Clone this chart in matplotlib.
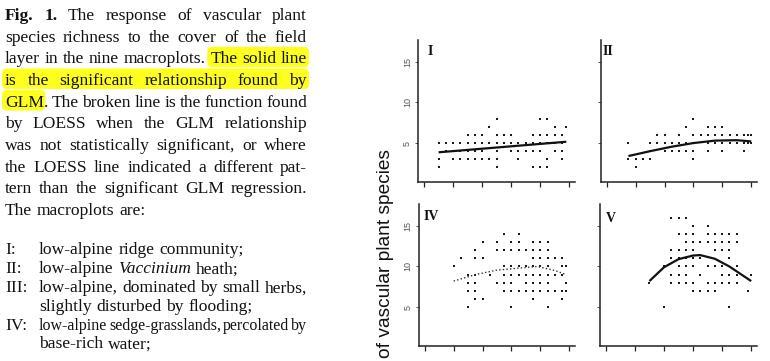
import matplotlib
matplotlib.use('Agg')
import matplotlib.pyplot as plt
from matplotlib.patches import FancyBboxPatch
from matplotlib.transforms import IdentityTransform

W, H = 770, 361
fig = plt.figure(figsize=(W / 100, H / 100), dpi=100)
fig.patch.set_facecolor('white')

# ---------------- data ----------------
cover_ticks = [0, 20, 40, 60, 80, 100]
richness_ticks = [5, 10, 15]
richness_tick_labels = ['5', '10', '15']

# points: richness -> list of cover values
panel1_points = {
    8: [50, 80, 85],
    7: [45, 90, 98],
    6: [30, 35, 40, 50, 55, 60, 75, 80, 85, 90, 95],
    5: [10, 15, 20, 25, 30, 35, 40, 45, 50, 55, 60, 65, 70, 75, 80, 85, 90, 95],
    4: [15, 20, 25, 30, 35, 40, 50, 60, 65, 70, 75, 80, 90, 95],
    3: [10, 20, 25, 30, 35, 40, 45, 50, 65, 85, 95],
    2: [10, 50, 75, 80, 85],
}
panel1_fit_x = [10, 50, 98]
panel1_fit_y = [3.86, 4.45, 5.16]

panel2_points = {
    8: [60],
    7: [55, 70, 75, 80],
    6: [35, 40, 50, 60, 65, 70, 75, 80, 85, 90, 95, 98, 100],
    5: [15, 30, 35, 40, 45, 50, 55, 60, 70, 75, 80, 85, 90, 95, 98, 100],
    4: [30, 40, 45, 50, 55, 60, 70, 80, 95],
    3: [15, 20, 25, 30, 60],
    2: [20],
}
panel2_fit_x = [15, 30, 45, 60, 75, 90, 100]
panel2_fit_y = [3.4, 4.0, 4.55, 5.0, 5.3, 5.35, 5.2]

panel4_points = {
    14: [55, 65],
    13: [40, 50, 60, 65, 75, 80, 85],
    12: [35, 50, 55, 60, 65, 70, 75, 80, 85],
    11: [25, 35, 40, 75, 80, 85, 90, 95],
    10: [20, 55, 60, 65, 70, 75, 80, 85, 95, 98],
    9: [30, 35, 45, 55, 60, 65, 70, 75, 80, 85, 90, 95],
    8: [30, 35, 50, 55, 60, 70, 75, 80, 85, 98],
    7: [30, 35, 55, 60, 65, 70, 75, 80, 85, 90, 95, 98],
    6: [35, 40, 75, 95],
    5: [30, 60, 85],
}
panel4_loess_x = [20, 35, 50, 65, 78, 90, 98]
panel4_loess_y = [8.2, 9.0, 9.55, 9.8, 10.0, 9.5, 9.0]

panel5_points = {
    16: [45, 50, 55],
    15: [60, 70],
    14: [50, 55, 60, 70, 75, 80, 85, 90],
    13: [55, 60, 65, 70, 75, 80, 85, 90],
    12: [45, 50, 55, 60, 75, 80, 85],
    11: [45, 50, 55, 60, 65, 85],
    10: [40, 50, 55, 60, 70, 75, 80, 90],
    9: [45, 50, 55, 65, 80, 85, 90, 100],
    8: [30, 45, 50, 55, 60, 70, 75, 80, 85, 90],
    7: [60, 65, 70, 75, 98],
    5: [40, 85],
}
panel5_fit_x = [30, 40, 50, 60, 65, 75, 85, 100]
panel5_fit_y = [8.2, 9.9, 10.9, 11.35, 11.4, 10.95, 10.0, 8.2]

panel_labels = ['I', 'II', 'IV', 'V']
y_axis_label = 'of vascular plant species'

# ---------------- caption text ----------------
SERIF = 'Liberation Serif'
FS = 12.6
renderer = fig.canvas.get_renderer()


def measure(s, fs=FS, weight='normal', style='normal'):
    t = fig.text(0, 0, s, fontsize=fs, family=SERIF, weight=weight, style=style)
    w = t.get_window_extent(renderer).width
    t.remove()
    return w


space_w = measure('a a') - 2 * measure('a')

# each line: (baseline_px, left_px, right_px, justified, words)
# word: (text, style) with style 'n', 'b', 'i'
caption_lines = [
    (20.0, 5, 307, True, [('Fig.', 'b'), ('1.', 'b'), ('The', 'n'), ('response', 'n'), ('of', 'n'), ('vascular', 'n'), ('plant', 'n')]),
    (41.7, 5, 307, True, [(w, 'n') for w in 'species richness to the cover of the field'.split()]),
    (63.3, 5, 307, True, [(w, 'n') for w in 'layer in the nine macroplots. The solid line'.split()]),
    (85.0, 5, 307, True, [(w, 'n') for w in 'is the significant relationship found by'.split()]),
    (106.6, 5, 307, True, [(w, 'n') for w in 'GLM. The broken line is the function found'.split()]),
    (128.2, 5, 307, True, [(w, 'n') for w in 'by LOESS when the GLM relationship'.split()]),
    (149.8, 5, 307, True, [(w, 'n') for w in 'was not statistically significant, or where'.split()]),
    (171.5, 5, 307, True, [(w, 'n') for w in 'the LOESS line indicated a different pat-'.split()]),
    (193.2, 5, 307, True, [(w, 'n') for w in 'tern than the significant GLM regression.'.split()]),
    (214.8, 5, 307, False, [(w, 'n') for w in 'The macroplots are:'.split()]),
    (254.0, 5, 307, False, [('I:', 'n')]),
    (254.0, 39, 307, False, [(w, 'n') for w in 'low-alpine ridge community;'.split()]),
    (273.3, 5, 307, False, [('II:', 'n')]),
    (273.3, 39, 307, False, [('low-alpine', 'n'), ('Vaccinium', 'i'), ('heath;', 'n')]),
    (292.3, 5, 307, False, [('III:', 'n')]),
    (292.3, 39, 307, True, [(w, 'n') for w in 'low-alpine, dominated by small herbs,'.split()]),
    (311.3, 39, 307, False, [(w, 'n') for w in 'slightly disturbed by flooding;'.split()]),
    (330.5, 5, 307, False, [('IV:', 'n')]),
    (330.5, 39, 307, True, [(w, 'n') for w in 'low-alpine sedge-grasslands, percolated by'.split()]),
    (348.5, 39, 307, False, [(w, 'n') for w in 'base-rich water;'.split()]),
]
# highlighted spans: (line index, first word, last word)
highlights = [(2, 5, 7), (3, 0, 5), (4, 0, 0)]

word_boxes = {}
for li, (base, left, right, just, words) in enumerate(caption_lines):
    fs = FS

    def props_at(fs):
        out = []
        for text, st in words:
            kw = dict(weight='bold' if st == 'b' else 'normal',
                      style='italic' if st == 'i' else 'normal')
            out.append((text, kw, measure(text, fs, **kw)))
        return out

    props = props_at(fs)
    total = sum(p[2] for p in props)
    n = len(props)
    if just and n > 1:
        min_gap = 0.3 * space_w
        need = total + min_gap * (n - 1)
        if need > right - left:
            fs = FS * (right - left) / need * 0.995
            props = props_at(fs)
            total = sum(p[2] for p in props)
        gap = (right - left - total) / (n - 1)
    else:
        gap = space_w * 1.1
    x = left
    for wi, (text, kw, w) in enumerate(props):
        fig.text(x / W, 1 - base / H, text, fontsize=fs, family=SERIF,
                 va='baseline', ha='left', color='#111111', zorder=3, **kw)
        word_boxes[(li, wi)] = (x, x + w)
        x += w + gap

for li, w0, w1 in highlights:
    base = caption_lines[li][0]
    x0 = word_boxes[(li, w0)][0] - 3
    x1 = word_boxes[(li, w1)][1] + 2
    if li == 4:
        x1 = word_boxes[(li, w1)][1] - 3
    y_top = base - 16.5
    y_bot = base + 4.0
    patch = FancyBboxPatch((x0, H - y_bot), x1 - x0, y_bot - y_top,
                           boxstyle='round,pad=0,rounding_size=5',
                           transform=IdentityTransform(), facecolor='#ffff1f',
                           edgecolor='none', zorder=1)
    fig.patches.append(patch)

# ---------------- panels ----------------
panel_rects = [  # left, top, right, bottom in pixels
    (418.3, 40, 575, 182),
    (601, 40, 757, 182),
    (419, 204, 575, 346),
    (600, 204, 757, 346),
]
label_pos = [(0.062, 0.965), (0.012, 0.965), (0.032, 0.958), (0.038, 0.944)]
point_sets = [panel1_points, panel2_points, panel4_points, panel5_points]
fits = [(panel1_fit_x, panel1_fit_y, '-'), (panel2_fit_x, panel2_fit_y, '-'),
        (panel4_loess_x, panel4_loess_y, ':'), (panel5_fit_x, panel5_fit_y, '-')]

for i, (rect, pts, fit) in enumerate(zip(panel_rects, point_sets, fits)):
    l, t, r, b = rect
    ax = fig.add_axes([l / W, 1 - b / H, (r - l) / W, (b - t) / H])
    ax.set_xlim(-4, 104)
    ax.set_ylim(0.2, 17.7)
    xs, ys = [], []
    for rich, covers in pts.items():
        for c in covers:
            xs.append(c)
            ys.append(rich)
    ax.scatter(xs, ys, s=2.4, marker='s', color='#1a1a1a', linewidths=0, zorder=2)
    fx, fy, ls = fit
    if ls == '-':
        ax.plot(fx, fy, color='#111111', lw=1.6, zorder=3, solid_capstyle='butt')
    else:
        ax.plot(fx, fy, color='#333333', lw=1.0, ls=(0, (1, 1.6)), zorder=3)
    for side in ['top', 'right']:
        ax.spines[side].set_visible(False)
    for side in ['left', 'bottom']:
        ax.spines[side].set_linewidth(1.1)
        ax.spines[side].set_color('#222222')
    ax.set_xticks(cover_ticks)
    ax.set_xticklabels([])
    ax.set_yticks(richness_ticks)
    if i in (0, 2):
        ax.set_yticklabels(richness_tick_labels, rotation=90, va='center',
                           fontsize=6.5, color='#555555', family='Liberation Sans')
    else:
        ax.set_yticklabels([])
    ax.tick_params(axis='x', length=3.6, width=0.9, color='#222222')
    ax.tick_params(axis='y', length=2.5, width=0.7, color='#555555', pad=2)
    ax.set_facecolor('none')
    ax.text(label_pos[i][0], label_pos[i][1], panel_labels[i], transform=ax.transAxes,
            ha='left', va='top', fontsize=10, weight='bold', family=SERIF, color='#111111')

fig.text(386 / W, 1 - 358 / H, y_axis_label, rotation=90, rotation_mode='anchor',
         ha='left', va='center', fontsize=13.8, family='Liberation Sans', color='#111111')

fig.savefig('out.png', dpi=100, facecolor='white')
